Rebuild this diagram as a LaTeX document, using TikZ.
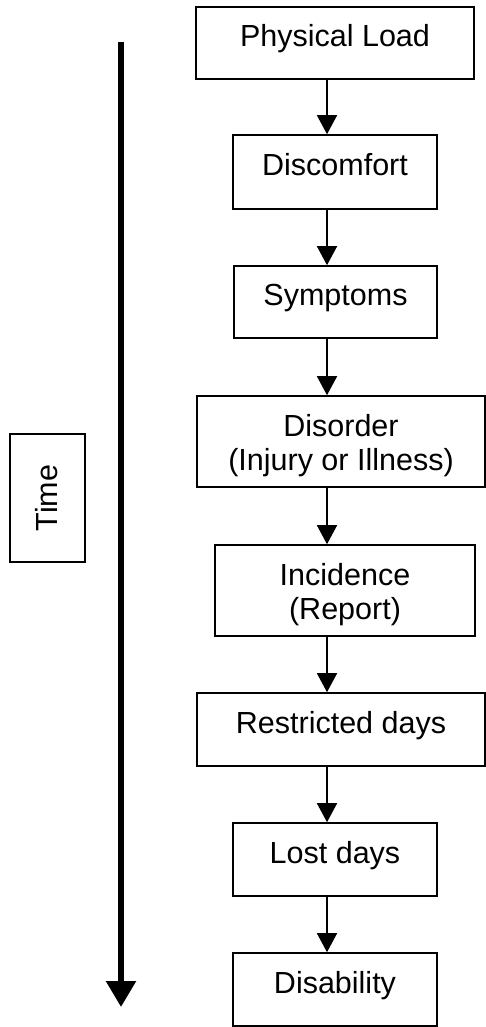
\documentclass[tikz,border=0pt]{standalone}
\usepackage{fontspec}
\setmainfont{Liberation Sans}
\usetikzlibrary{arrows.meta}
\begin{document}
\begin{tikzpicture}[x=1pt,y=-1pt,
  stagebox/.style={draw, line width=1.6pt, inner sep=0pt,
    font=\fontsize{30.5}{34}\selectfont, align=center,
    text height=22pt, text depth=15pt},
  twoline/.style={text height=60pt, text depth=3pt},
  flow/.style={line width=1.6pt, -{Triangle[width=20pt,length=19pt]}},
  timearrow/.style={line width=5.5pt, -{Triangle[width=29pt,length=26pt]}}]
\useasboundingbox (0,0) rectangle (486,1027);
\fill[white] (0,0) rectangle (486,1027);

\node[stagebox, minimum width=278pt, minimum height=72pt] (pl) at (335,43) {Physical Load};
\node[stagebox, minimum width=204pt, minimum height=74pt] (disc) at (335,172) {Discomfort};
\node[stagebox, minimum width=203pt, minimum height=72pt] (symp) at (335.5,302) {Symptoms};
\node[stagebox, twoline, minimum width=288pt, minimum height=91pt] (dis) at (341,441.5) {Disorder\\(Injury or Illness)};
\node[stagebox, twoline, minimum width=260pt, minimum height=91pt] (inc) at (345,590.5) {Incidence\\(Report)};
\node[stagebox, minimum width=288pt, minimum height=73pt] (rest) at (341,729.5) {Restricted days};
\node[stagebox, minimum width=204pt, minimum height=73pt] (lost) at (335,859.5) {Lost days};
\node[stagebox, minimum width=204pt, minimum height=73pt] (disab) at (335,989.5) {Disability};

\node[stagebox, rotate=90, minimum width=128pt, minimum height=75pt,
  text height=22pt, text depth=3pt] (time) at (47.5,498) {Time};

\coordinate (ax) at (327,0);
\draw[flow] (pl.south -| ax) -- (disc.north -| ax);
\draw[flow] (disc.south -| ax) -- (symp.north -| ax);
\draw[flow] (symp.south -| ax) -- (dis.north -| ax);
\draw[flow] (dis.south -| ax) -- (inc.north -| ax);
\draw[flow] (inc.south -| ax) -- (rest.north -| ax);
\draw[flow] (rest.south -| ax) -- (lost.north -| ax);
\draw[flow] (lost.south -| ax) -- (disab.north -| ax);

\coordinate (tstart) at (121,42);
\coordinate (tend) at (121,1007);
\draw[timearrow] (tstart) -- (tend);
\end{tikzpicture}
\end{document}
